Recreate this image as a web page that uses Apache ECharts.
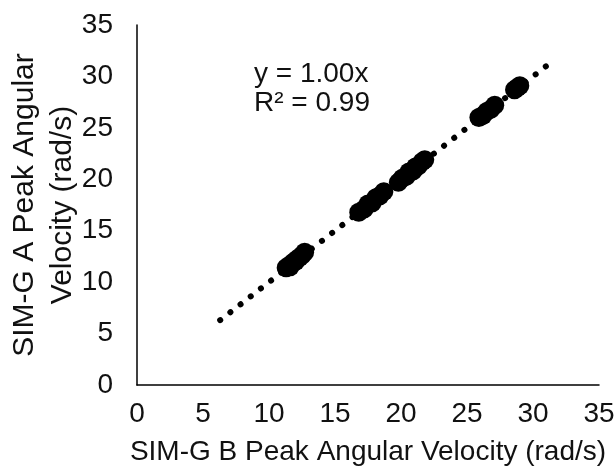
<!DOCTYPE html>
<html>
<head>
<meta charset="utf-8">
<script src="https://cdn.jsdelivr.net/npm/echarts@6/dist/echarts.min.js"></script>
<style>html,body{margin:0;padding:0;background:#fff;}#c{width:615px;height:474px;}</style>
</head>
<body>
<div id="c"></div>
<script>
var xValues = [11.3, 11.5, 11.6, 11.8, 12.0, 12.1, 12.3, 12.5, 12.7,
  16.8, 17.2, 17.5, 17.8, 18.1, 18.4, 18.7,
  19.8, 20.1, 20.4, 20.6, 20.9, 21.1, 21.3, 21.6, 21.8,
  25.9, 26.2, 26.5, 26.8, 27.1,
  28.6, 28.8, 29.0];
var yValues = [11.4, 11.6, 11.5, 11.9, 12.0, 12.2, 12.4, 12.6, 12.9,
  16.8, 17.1, 17.6, 17.7, 18.2, 18.4, 18.8,
  19.7, 20.1, 20.3, 20.7, 20.8, 21.2, 21.3, 21.7, 21.9,
  26.0, 26.2, 26.6, 26.8, 27.2,
  28.7, 28.9, 29.1];
var trendSlope = 1.00;
var trendXRange = [6.3, 31.5];
var axisTicks = [0, 5, 10, 15, 20, 25, 30, 35];
var xTitle = 'SIM-G B Peak Angular Velocity (rad/s)';
var yTitle = 'SIM-G A Peak Angular\nVelocity (rad/s)';
var eqLines = ['y = 1.00x', 'R² = 0.99'];

var pts = xValues.map(function (x, i) { return [x, yValues[i]]; });
var trend = trendXRange.map(function (x) { return [x, trendSlope * x]; });
var font = 'Liberation Sans, Arial, sans-serif';
var fsTick = 28;
var fsXTitle = 28;
var fsYTitle = 30;
var tc = '#111';

var chart = echarts.init(document.getElementById('c'));
chart.setOption({
  animation: false,
  backgroundColor: '#fff',
  grid: { left: 137, right: 16, top: 25, bottom: 89, containLabel: false, outerBoundsMode: 'none' },
  xAxis: {
    type: 'value', min: axisTicks[0], max: axisTicks[axisTicks.length - 1], interval: 5,
    name: xTitle, nameLocation: 'middle', nameGap: 53, nameMoveOverlap: false,
    nameTextStyle: { fontFamily: font, fontSize: fsXTitle, color: tc },
    axisLine: { show: true, lineStyle: { color: '#000', width: 1.5 } },
    axisTick: { show: false },
    splitLine: { show: false },
    axisLabel: { fontFamily: font, fontSize: fsTick, color: tc, margin: 15 }
  },
  yAxis: {
    type: 'value', min: axisTicks[0], max: axisTicks[axisTicks.length - 1], interval: 5,
    name: yTitle, nameLocation: 'middle', nameGap: 55, nameRotate: 90, nameMoveOverlap: false,
    nameTextStyle: { fontFamily: font, fontSize: fsYTitle, color: tc, lineHeight: 38 },
    axisLine: { show: true, lineStyle: { color: '#000', width: 1.5 } },
    axisTick: { show: false },
    splitLine: { show: false },
    axisLabel: { fontFamily: font, fontSize: fsTick, color: tc, margin: 24 }
  },
  graphic: [{
    type: 'text', left: 254, top: 60,
    style: { text: eqLines.join('\n'), font: fsTick + 'px ' + font, fill: tc, lineHeight: 29 }
  }],
  series: [{
    type: 'line', data: trend, showSymbol: false, symbol: 'none',
    lineStyle: { color: '#000', width: 6, type: [0.1, 12.8], cap: 'round' },
    z: 1
  }, {
    type: 'scatter', data: pts, symbol: 'circle', symbolSize: 19,
    itemStyle: { color: '#000', opacity: 1 }, z: 2
  }]
});
</script>
</body>
</html>
